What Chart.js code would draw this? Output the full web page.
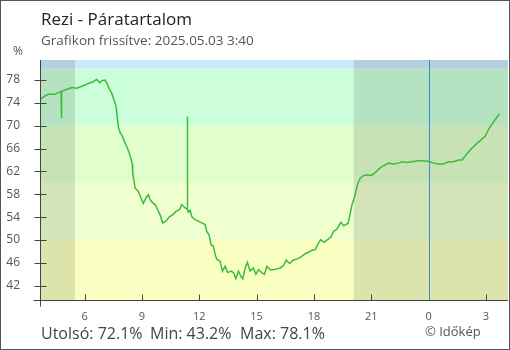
<!DOCTYPE html>
<html><head><meta charset="utf-8">
<script src="https://cdn.jsdelivr.net/npm/chart.js@4"></script>
<style>
html,body{margin:0;padding:0;background:#fff;}
#wrap{position:relative;width:510px;height:350px;overflow:hidden;font-family:"Open Sans",sans-serif;}
#wrap canvas{position:absolute;left:0;top:0;}
.t{position:absolute;white-space:pre;line-height:1;}
</style></head><body>
<div id="wrap">
<canvas id="c" width="510" height="350"></canvas>
<div class="t" style="left:41px;top:10px;font-size:17px;color:#222;">Rezi - Páratartalom</div>
<div class="t" style="left:41px;top:33.7px;font-size:13.5px;color:#555;">Grafikon frissítve: 2025.05.03 3:40</div>
<div class="t" style="left:13px;top:45px;font-size:12px;color:#555;">%</div>
<div class="t" style="left:41px;top:325px;font-size:16px;color:#444;">Utolsó: 72.1%</div>
<div class="t" style="left:150px;top:325px;font-size:16px;color:#444;">Min: 43.2%</div>
<div class="t" style="left:240px;top:325px;font-size:16px;color:#444;">Max: 78.1%</div>
<div class="t" style="left:425px;top:324.5px;font-size:13px;color:#555;">© Időkép</div>
</div>
<script>
// hours since midnight of day 1 (values > 24 are the next day)
const times = [3.67,3.93,4.10,4.45,4.62,4.77,4.79,4.80,4.81,4.98,5.33,5.59,5.93,6.20,6.46,6.63,6.80,6.90,7.07,7.16,7.28,7.42,7.54,7.65,7.71,7.77,7.86,7.96,8.12,8.24,8.34,8.43,8.50,8.52,8.59,8.64,8.81,8.95,9.07,9.22,9.34,9.43,9.57,9.69,9.83,9.95,10.09,10.26,10.44,10.61,10.79,10.96,11.09,11.26,11.37,11.38,11.39,11.43,11.52,11.61,11.78,11.95,12.13,12.31,12.39,12.51,12.62,12.74,12.83,12.92,13.09,13.21,13.35,13.49,13.67,13.79,13.91,14.05,14.19,14.28,14.40,14.52,14.66,14.83,14.96,15.10,15.27,15.41,15.54,15.71,15.88,16.06,16.23,16.40,16.55,16.72,16.93,17.14,17.32,17.54,17.71,17.89,18.06,18.24,18.36,18.54,18.71,18.89,19.02,19.20,19.41,19.55,19.78,19.90,19.99,20.11,20.21,20.30,20.42,20.59,20.77,21.00,21.21,21.38,21.64,21.90,22.16,22.43,22.60,22.87,23.21,23.56,24.00,24.26,24.52,24.78,25.04,25.31,25.57,25.75,25.92,26.18,26.44,26.70,26.96,27.14,27.35,27.53,27.70];
const humidity = [74.6,75.2,75.5,75.5,75.8,76.0,75.9,71.3,76.0,76.25,76.7,76.55,77.0,77.4,77.7,78.1,77.5,77.9,78.0,77.5,76.55,75.7,74.5,73.4,71.5,69.8,68.8,68.3,66.95,66.1,65.2,64.2,63.2,61.7,60.3,59.1,58.5,57.4,56.4,57.4,57.9,57.05,56.5,56.2,55.3,54.4,53.0,53.3,54.05,54.4,55.0,55.3,56.2,55.6,55.4,71.6,55.3,54.85,55.2,54.1,53.55,53.3,53.0,52.7,51.5,50.95,49.2,48.9,47.5,46.6,46.3,44.55,45.4,44.3,44.55,44.3,43.2,44.55,43.55,43.2,45.1,46.1,44.55,45.1,44.0,44.8,44.3,44.0,45.4,44.8,44.8,44.95,45.1,45.5,46.5,45.9,46.5,46.7,47.05,47.6,47.85,48.2,48.3,49.5,50.05,49.6,50.05,50.5,51.5,51.9,53.1,52.5,52.9,54.7,56.2,57.35,58.8,59.95,60.8,61.25,61.4,61.3,61.8,62.4,63.0,63.45,63.3,63.45,63.7,63.55,63.75,63.9,63.75,63.45,63.3,63.3,63.7,63.7,64.0,64.0,64.75,65.8,66.65,67.4,68.2,69.4,70.45,71.3,72.1];
const xTicks = [6,9,12,15,18,21,24,27];
const yTicks = [42,46,50,54,58,62,66,70,74,78];
const bandEdges = [50,60,70,80];
const sunrise = 5.5;
const sunset = 20.08;
const midnight = 24;
const xMin = 3.67, xMax = 28.15, yMin = 39.5, yMax = 81.5;

const bandColors = ['#f8ffc0','#f0ffd0','#e0ffcc','#ccffd9','#cce9fb'];

const deco = {
  id:'deco',
  beforeDatasetsDraw(chart){
    const {ctx, chartArea:a, scales:{x,y}} = chart;
    ctx.save();
    const edges = [yMin, ...bandEdges, yMax];
    for (let i=0;i<edges.length-1;i++){
      const top = y.getPixelForValue(edges[i+1]);
      const bot = y.getPixelForValue(edges[i]);
      ctx.fillStyle = bandColors[i];
      ctx.fillRect(a.left, top, a.right-a.left, bot-top);
    }
    ctx.fillStyle = 'rgba(0,0,0,0.11)';
    const n1 = x.getPixelForValue(sunrise);
    ctx.fillRect(a.left, a.top, n1-a.left, a.bottom-a.top);
    const n2 = x.getPixelForValue(sunset);
    ctx.fillRect(n2, a.top, a.right-n2, a.bottom-a.top);
    const mx = Math.round(x.getPixelForValue(midnight)) + 0.5;
    ctx.strokeStyle = '#2f8fd6';
    ctx.lineWidth = 1;
    ctx.beginPath(); ctx.moveTo(mx, a.top); ctx.lineTo(mx, a.bottom); ctx.stroke();
    ctx.restore();
  },
  afterDraw(chart){
    const {ctx, chartArea:a, scales:{x,y}} = chart;
    ctx.save();
    ctx.strokeStyle = '#444';
    ctx.lineWidth = 1;
    const L = Math.round(a.left)+0.5, B = Math.round(a.bottom)+0.5;
    ctx.beginPath();
    ctx.moveTo(L, a.top); ctx.lineTo(L, B+6);
    ctx.moveTo(L-7, B); ctx.lineTo(a.right, B);
    yTicks.forEach(v=>{
      const py = Math.round(y.getPixelForValue(v))+0.5;
      ctx.moveTo(L-6, py); ctx.lineTo(L+6, py);
    });
    xTicks.forEach(v=>{
      if (v===midnight) return;
      const px = Math.round(x.getPixelForValue(v))+0.5;
      ctx.moveTo(px, B-6); ctx.lineTo(px, B);
    });
    ctx.stroke();
    ctx.strokeStyle = '#555';
    ctx.strokeRect(0.5,0.5,509,349);
    ctx.restore();
  }
};

new Chart(document.getElementById('c'), {
  type:'line',
  data:{datasets:[{
    data: times.map((t,i)=>({x:t, y:humidity[i]})),
    borderColor:'#3dbb3d', borderWidth:1.5, pointRadius:0, tension:0, fill:false
  }]},
  options:{
    responsive:false, animation:false, events:[],
    layout:{padding:{top:60,right:2,left:0,bottom:0}},
    plugins:{legend:{display:false}, tooltip:{enabled:false}},
    scales:{
      x:{type:'linear', min:xMin, max:xMax,
        afterBuildTicks:s=>{s.ticks = xTicks.map(v=>({value:v}));},
        afterFit:s=>{s.height = 50;},
        grid:{display:false}, border:{display:false},
        ticks:{autoSkip:false, maxRotation:0, padding:2, color:'#555',
          font:{family:'Open Sans', size:11},
          callback:v=>String(v%24)}},
      y:{min:yMin, max:yMax,
        afterBuildTicks:s=>{s.ticks = yTicks.map(v=>({value:v}));},
        afterFit:s=>{s.width = 40;},
        grid:{display:false}, border:{display:false},
        ticks:{padding:12, color:'#555', font:{family:'Open Sans', size:12}}}
    }
  },
  plugins:[deco]
});
</script>
</body></html>
